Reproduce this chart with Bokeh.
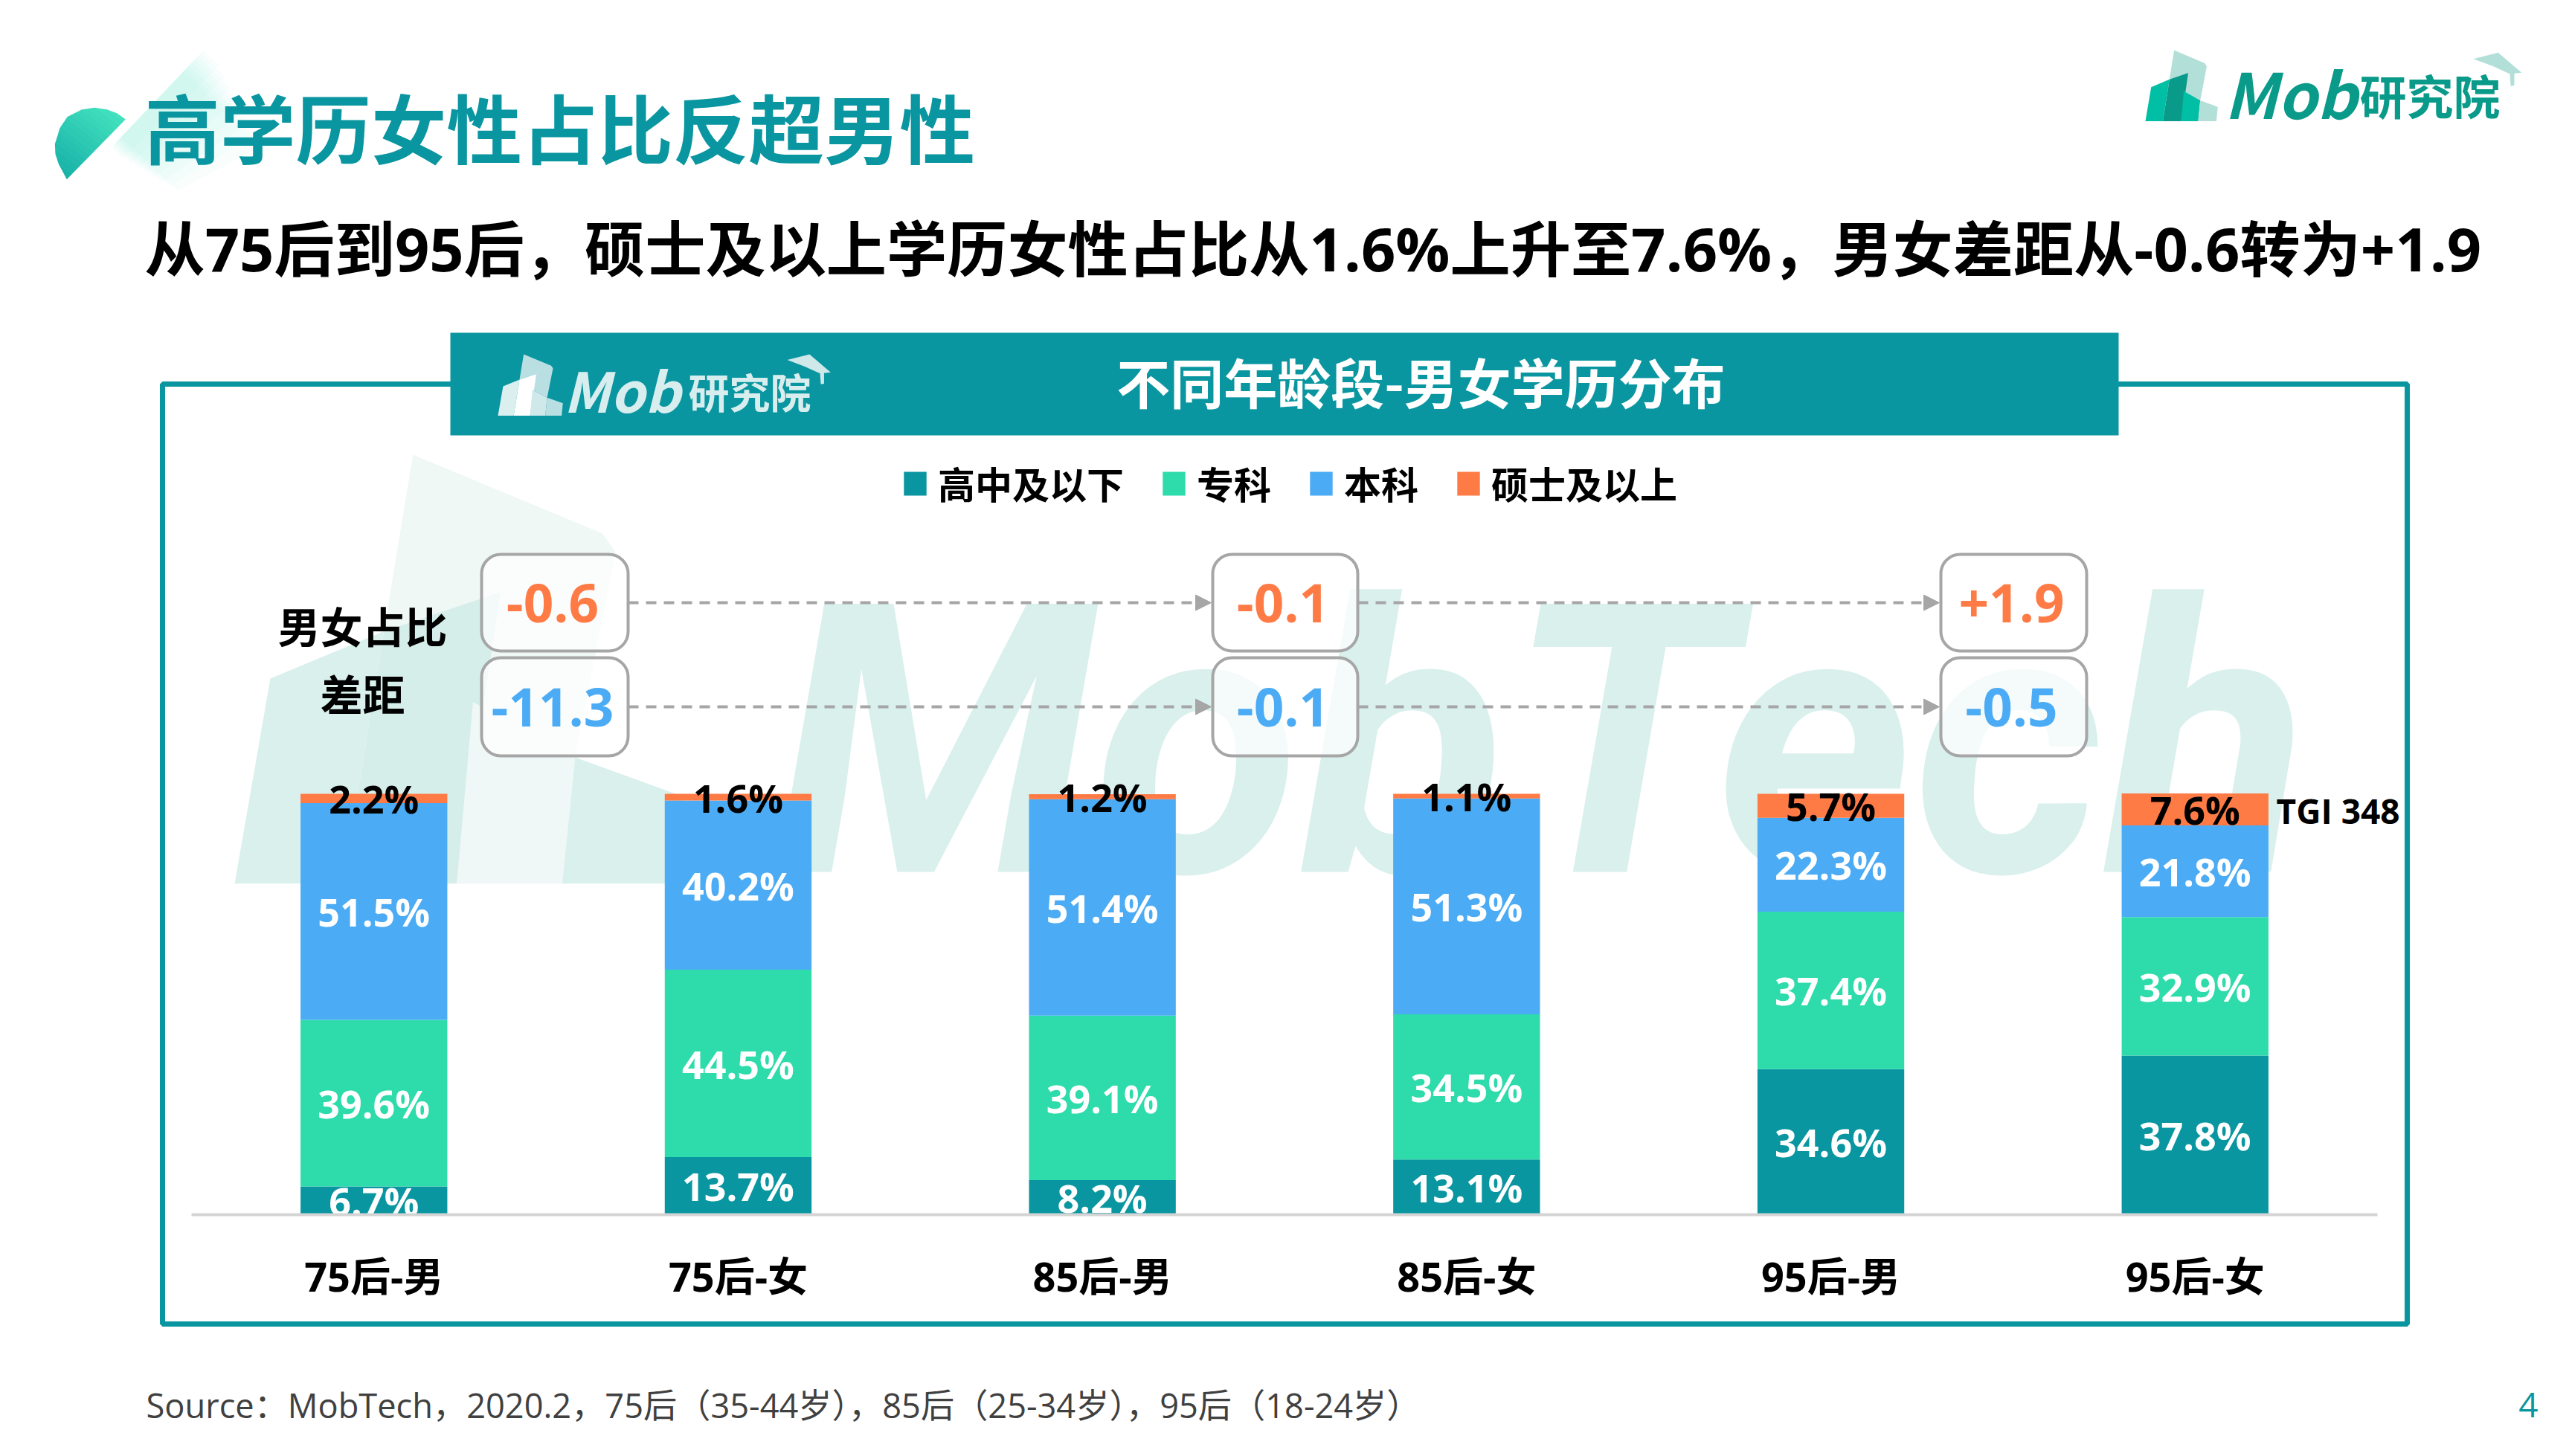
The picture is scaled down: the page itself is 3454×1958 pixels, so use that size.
from bokeh.plotting import figure
from bokeh.models import (ColumnDataSource, Range1d, FactorRange, CategoricalAxis, Arrow, NormalHead)
from bokeh.core.properties import value
from bokeh.embed import file_html
from bokeh.resources import INLINE
import numpy as np

categories = ["75后-男", "75后-女", "85后-男", "85后-女", "95后-男", "95后-女"]
series_names = ["高中及以下", "专科", "本科", "硕士及以上"]
high_school = [6.7, 13.7, 8.2, 13.1, 34.6, 37.8]
college = [39.6, 44.5, 39.1, 34.5, 37.4, 32.9]
bachelor = [51.5, 40.2, 51.4, 51.3, 22.3, 21.8]
master = [2.2, 1.6, 1.2, 1.1, 5.7, 7.6]
gap_master = ["-0.6", "-0.1", "+1.9"]
gap_bachelor = ["-11.3", "-0.1", "-0.5"]

TEAL = "#0a96a0"; GREEN = "#2edbab"; BLUE = "#4babf4"; ORANGE = "#ff7b46"; GRAY = "#a6a6a6"
colors = [TEAL, GREEN, BLUE, ORANGE]
FONT = "'Open Sans', 'Noto Sans CJK SC'"
CJK = "'Noto Sans CJK SC'"

W, H = 3438, 1942
LEFT = 15          # left border, centres the categories on the frame
FW = W - LEFT
# pixel geometry of the slide (reference image coordinates)
AX_Y, TOP_Y, PCT = 1633.0, 1067.0, 5.66
y0 = -(H - AX_Y) / PCT
y1 = 100 + TOP_Y / PCT
PAD = 0.495

p = figure(width=W, height=H, output_backend="svg", toolbar_location=None,
           x_range=FactorRange(factors=categories, factor_padding=0, range_padding=PAD,
                               range_padding_units="absolute"),
           y_range=Range1d(y0, y1), x_axis_location=None, y_axis_location=None,
           min_border=0, min_border_left=LEFT, outline_line_color=None,
           background_fill_color="white", border_fill_color="white")
p.grid.visible = False
p.extra_y_ranges["px"] = Range1d(H, 0)
PX = dict(y_range_name="px")


def sx(px):
    # slide pixel -> position on the categorical axis
    return -PAD + (px - LEFT) / FW * (len(categories) + 2 * PAD)


def T(text, x, y, size, color="#000000", style="bold", align="left", base="middle", font=FONT):
    p.text(x=[sx(x)], y=[y], text=[text], text_font=value(font), text_font_size=f"{size}px", text_color=color,
           text_font_style=style, text_align=align, text_baseline=base, **PX)


def poly(pts, color, alpha=1.0):
    p.patch([sx(a) for a, _ in pts], [b for _, b in pts], fill_color=color, fill_alpha=alpha,
            line_color=None, **PX)


# logo outline, in its own drawing units
LOGO = {
    "back": [(178, 48), (295, 98), (303, 110), (278, 240), (215, 205), (232, 135), (160, 160)],
    "front": [(90, 190), (160, 160), (135, 320), (68, 320)],
    "strip": [(160, 160), (232, 135), (205, 320), (135, 320)],
    "mid": [(215, 205), (278, 240), (270, 320), (205, 320)],
    "low": [(278, 240), (345, 265), (340, 320), (270, 320)],
}
HAT = [[(1325, 82), (1420, 58), (1510, 135), (1465, 140), (1400, 110)], [(1465, 140), (1482, 135), (1482, 183), (1468, 186)]]


def logo(x0, y0_, sx_, sy, cols):
    for k, c in cols.items():
        poly([(x0 + sx_ * (u - 68), y0_ + sy * (v - 48)) for u, v in LOGO[k]], c)


# watermark
logo(315, 611, 2.18, 2.12, {"back": "#f0f8f6", "front": "#d9f0ec", "strip": "#d6eeea", "mid": "#eff8f6", "low": "#d9f0ec"})
T("MobTech", 1040, 999, 507, "#d9f0ec", "bold italic", font="Roboto")

# glow + leaf beside the title
A, B = np.array([277.0, 63.0]), np.array([147.0, 200.0])
n = np.array([0.72, 0.69])
for k in range(1, 9):
    w = 12 + k * 15
    t = 0.03 * k
    a_, b_ = A + (B - A) * t, B - (B - A) * t * 0.5
    poly([tuple(a_), tuple(b_), tuple(b_ + n * w * 0.8), tuple(a_ + n * w * 1.1)], "#4fdcb8", 0.032)

arc = [(355, 330), (320, 305), (280, 290), (230, 283), (180, 290), (120, 320), (90, 365), (70, 430), (72, 470), (85, 510), (118, 572)]
leaf = [(50 + a / 3, 50 + b / 3) for a, b in arc]


def clip(pts, o, d, lo, hi):
    def cut(ps, sign, lim):
        out = []
        for i in range(len(ps)):
            P, Q_ = np.array(ps[i]), np.array(ps[(i + 1) % len(ps)])
            fp, fq = sign * (np.dot(P - o, d) - lim), sign * (np.dot(Q_ - o, d) - lim)
            if fp >= 0:
                out.append(tuple(P))
            if fp * fq < 0:
                out.append(tuple(P + (Q_ - P) * fp / (fp - fq)))
        return out
    r = cut(pts, 1, lo)
    return cut(r, -1, hi) if r else r


o = np.array([168.0, 148.0]); d = np.array([-0.6, 0.8])
c0, c1 = np.array([0x45, 0xe6, 0xc0]), np.array([0x17, 0xb0, 0xa8])
N = 18
for i in range(N):
    lo, hi = i * 7.0 - 0.4, (i + 1) * 7.0
    b = clip(leaf, o, d, lo, hi)
    if len(b) > 2:
        c = c0 + (c1 - c0) * i / (N - 1)
        poly(b, "#%02x%02x%02x" % tuple(int(v) for v in c))

T("高学历女性占比反超男性", 194, 168, 101.5, TEAL, font=CJK)
T("从75后到95后，硕士及以上学历女性占比从1.6%上升至7.6%，男女差距从-0.6转为+1.9", 194, 333, 81.2)

# top-right logo
logo(2884, 67, 0.351, 0.351, {"back": "#b3dfd9", "front": "#00bfa5", "strip": "#0a9a8a", "mid": "#00bfa5", "low": "#b3dfd9"})
T("Mob", 2990, 123, 84, "#0a9a8a", "bold italic", font=CJK)
T("研究院", 3172, 126, 63, "#0a9a8a", font=CJK)
for h in HAT:
    poly([(2860 + u / 2.85, 50 + v / 2.85) for u, v in h], "#b3dfd9")


def Q(l, r, t, b, **kw):
    p.quad(left=[sx(l)], right=[sx(r)], top=[t], bottom=[b], **PX, **kw)


# frame + banner
Q(218, 3236, 516, 1780, fill_color=None, line_color=TEAL, line_width=7)
Q(605, 2848, 447, 585, fill_color=TEAL, line_color=None)
logo(669, 476, 0.315, 0.303, {"back": "#b9dfe2", "front": "#dcefef", "strip": "#ffffff", "mid": "#cfe8ea", "low": "#b9dfe2"})
T("Mob", 757, 522, 74, "#d8eeee", "bold italic", font=CJK)
T("研究院", 925, 524, 55, "#d8eeee", font=CJK)
for h in HAT:
    poly([(640 + (u - 1325) * 0.315 + 418 / 1, 460 + (v - 58) * 0.315 + 16) for u, v in h], "#cfe8ea")
T("不同年龄段-男女学历分布", 1910, 511, 72, "#ffffff", align="center", font=CJK)

# stacked bars
src = ColumnDataSource(dict(cat=categories, **{s: v for s, v in zip(series_names, [high_school, college, bachelor, master])}))
p.vbar_stack(series_names, x="cat", width=0.403, source=src, color=colors, line_color=None,
             legend_label=series_names)

base = np.zeros(len(categories))
for vals, col in zip([high_school, college, bachelor, master], ["white", "white", "white", "black"]):
    v = np.array(vals)
    mids = base + v / 2
    base = base + v
    p.text(x=categories, y=mids.tolist(), text=[f"{a:.1f}%" for a in vals], text_font=value(FONT),
           text_font_size="52px", text_font_style="bold", text_color=col, text_align="center",
           text_baseline="middle")

T("TGI 348", 3060, 1089, 46)

# axis
ax = CategoricalAxis(fixed_location=0, bounds=(0, 6), axis_line_color="#d4d4d4", axis_line_width=4,
                     major_tick_line_color=None, minor_tick_line_color=None,
                     major_label_text_font=FONT, major_label_text_font_size="54px",
                     major_label_text_font_style="bold", major_label_text_color="#000000",
                     major_label_standoff=39)
p.add_layout(ax, "below")

# gap boxes
box_x = [(647, 844), (1630, 1825), (2609, 2805)]
rows = [(745, 875, 810, gap_master, ORANGE), (884, 1016, 950, gap_bachelor, BLUE)]
for top, bot, yc, vals, col in rows:
    for (l, r), val in zip(box_x, vals):
        Q(l, r, top, bot, fill_color="white", fill_alpha=0.72, line_color=GRAY, line_width=4, border_radius=26)
        T(val, (l + r) / 2 - 3, yc, 71, col, align="center")
    for i in range(2):
        p.add_layout(Arrow(end=NormalHead(size=21, fill_color=GRAY, line_color=GRAY), x_start=sx(box_x[i][1]), y_start=yc,
                           x_end=sx(box_x[i + 1][0] - 2), y_end=yc, line_color=GRAY, line_width=4,
                           line_dash=[14, 10], y_range_name="px"))

T("男女占比", 487, 839, 57, align="center", font=CJK)
T("差距", 487, 930, 57, align="center", font=CJK)

T("Source：MobTech，2020.2，75后（35-44岁），85后（25-34岁），95后（18-24岁）", 196, 1889, 45.2, "#404040", style="normal")
T("4", 3399, 1889, 46, TEAL, style="normal", align="center")

# legend
lg = p.legend[0]
lg.orientation = "horizontal"
lg.location = (1196, 1256)
lg.glyph_width = 38; lg.glyph_height = 40; lg.label_standoff = 12; lg.spacing = 48
lg.padding = 0; lg.margin = 0; lg.border_line_color = None; lg.background_fill_alpha = 0
lg.label_text_font = FONT; lg.label_text_font_size = "50px"; lg.label_text_font_style = "bold"
lg.label_text_color = "#000000"

open("out.html", "w").write(file_html(p, INLINE))
